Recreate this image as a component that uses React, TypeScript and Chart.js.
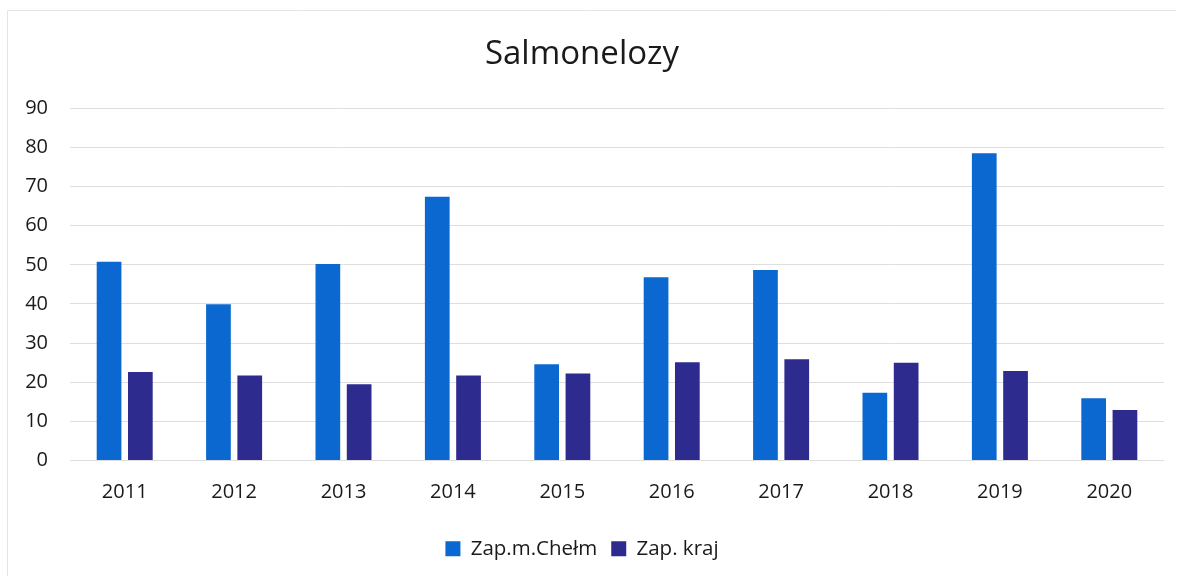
import React, { useEffect, useRef } from "react";
import { Chart, registerables } from "chart.js";

Chart.register(...registerables);

const categories = ["2011", "2012", "2013", "2014", "2015", "2016", "2017", "2018", "2019", "2020"];
const chelmValues = [50.8, 39.9, 50.2, 67.4, 24.6, 46.8, 48.7, 17.3, 78.5, 15.9];
const krajValues = [22.6, 21.7, 19.5, 21.7, 22.2, 25.1, 25.9, 25.0, 22.9, 12.9];
const seriesNames = ["Zap.m.Chełm", "Zap. kraj"];
const chartTitle = "Salmonelozy";

const FONT = "'Open Sans', 'Liberation Sans', sans-serif";

const borderPlugin = {
  id: "frameBorder",
  beforeDraw(chart: any) {
    const ctx = chart.ctx;
    ctx.save();
    ctx.strokeStyle = "#e4e4e4";
    ctx.lineWidth = 1;
    ctx.beginPath();
    ctx.moveTo(7.5, 576);
    ctx.lineTo(7.5, 10.5);
    ctx.lineTo(1176, 10.5);
    ctx.stroke();
    ctx.restore();
  },
};

export default function App() {
  const ref = useRef<HTMLCanvasElement | null>(null);

  useEffect(() => {
    document.body.style.margin = "0";
    document.body.style.background = "#ffffff";
    const canvas = ref.current;
    if (!canvas) return;
    const chart = new Chart(canvas, {
      type: "bar",
      data: {
        labels: categories,
        datasets: [
          {
            label: seriesNames[0],
            data: chelmValues,
            backgroundColor: "#0b68d0",
            categoryPercentage: 0.572,
            barPercentage: 0.79,
          },
          {
            label: seriesNames[1],
            data: krajValues,
            backgroundColor: "#2e2b8e",
            categoryPercentage: 0.572,
            barPercentage: 0.79,
          },
        ],
      },
      options: {
        responsive: false,
        animation: false,
        layout: { padding: { top: 25, right: 22, bottom: 12, left: 0 } },
        plugins: {
          title: {
            display: true,
            text: chartTitle,
            color: "#1a1a1a",
            font: { family: FONT, size: 33, weight: "normal" },
            padding: { top: 10, bottom: 33.7 },
          },
          legend: {
            position: "bottom",
            labels: {
              color: "#1a1a1a",
              font: { family: FONT, size: 20.5 },
              boxWidth: 15,
              boxHeight: 15,
              padding: 14,
            },
          },
          tooltip: { enabled: false },
        },
        scales: {
          x: {
            grid: { display: false, drawTicks: false },
            border: { display: false },
            ticks: {
              color: "#1a1a1a",
              font: { family: FONT, size: 20 },
              padding: 20,
            },
          },
          y: {
            min: 0,
            max: 90,
            afterFit(scale: any) {
              scale.width = 70;
            },
            grid: { color: "#dedede", drawTicks: false },
            border: { display: false },
            ticks: {
              stepSize: 10,
              color: "#1a1a1a",
              font: { family: FONT, size: 20 },
              padding: 22,
            },
          },
        },
      },
      plugins: [borderPlugin],
    });
    return () => chart.destroy();
  }, []);

  return (
    <div style={{ width: 1186, height: 581, position: "relative" }}>
      <canvas ref={ref} width={1186} height={581} style={{ display: "block" }} />
    </div>
  );
}
